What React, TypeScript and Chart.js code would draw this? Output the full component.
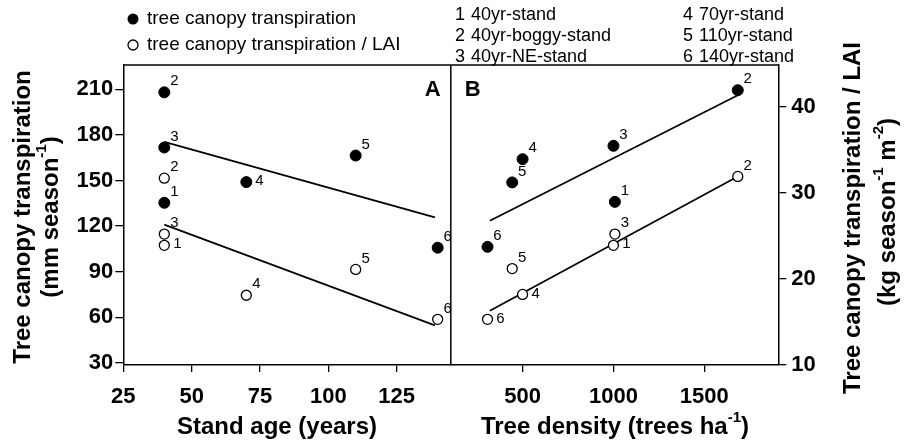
import React, { useEffect, useRef } from 'react';
import { Chart, registerables } from 'chart.js';

Chart.register(...registerables);

const FAMILY = "'Liberation Sans', Arial, Helvetica, sans-serif";

// Stands
const standIds = ['1', '2', '3', '4', '5', '6'];
const standNames = ['40yr-stand', '40yr-boggy-stand', '40yr-NE-stand', '70yr-stand', '110yr-stand', '140yr-stand'];

// Panel A: stand age (years)
const standAgeA = [40, 40, 40, 70, 110, 140];
const transpA = [135.3, 208, 171.7, 148.9, 166.4, 105.7]; // mm season-1
const transpLaiA = [23.9, 31.7, 25.2, 18.1, 21.1, 15.3]; // kg season-1 m-2

// Panel B: tree density (trees ha-1)
const densityFilledB = [1008, 1684, 1000, 500, 443, 307];
const transpB = [135.9, 209.4, 172.8, 164, 148.7, 106.3];
const densityOpenB = [1000, 1684, 1008, 500, 443, 307];
const transpLaiB = [23.9, 31.9, 25.2, 18.2, 21.2, 15.3];

// Regression line end points
const fitAgeX = [40, 139];
const fitTranspA = [175.4, 125.7];
const fitLaiA = [26.3, 14.6];
const fitDensityX = [320, 1684];
const fitTranspB = [123.4, 206.1];
const fitLaiB = [16.3, 31.9];

// Tick values
const leftTicks = [30, 60, 90, 120, 150, 180, 210];
const rightTicks = [10, 20, 30, 40];
const ageTicks = [25, 50, 75, 100, 125];
const densityTicks = [500, 1000, 1500];

// label placement of the stand numbers next to points (ne = upper right, e = right)
const lblFilledA = ['ne', 'ne', 'ne', 'e', 'ne', 'ne'];
const lblOpenA = ['e', 'ne', 'ne', 'ne', 'ne', 'ne'];
const lblFilledB = ['ne', 'ne', 'ne', 'ne', 'ne', 'ne'];
const lblOpenB = ['e', 'ne', 'ne', 'e', 'ne', 'e'];

const pts = (xs: number[], ys: number[]) => xs.map((x, i) => ({ x, y: ys[i] }));

function drawRich(ctx: CanvasRenderingContext2D, parts: [string, boolean][], x: number, y: number, size: number, weight: string) {
  const main = `${weight} ${size}px ${FAMILY}`;
  const sup = `${weight} ${Math.round(size * 0.62)}px ${FAMILY}`;
  let total = 0;
  const widths = parts.map(([t, s]) => {
    ctx.font = s ? sup : main;
    const w = ctx.measureText(t).width;
    total += w;
    return w;
  });
  let cx = x - total / 2;
  ctx.textAlign = 'left';
  ctx.textBaseline = 'middle';
  parts.forEach(([t, s], i) => {
    ctx.font = s ? sup : main;
    ctx.fillText(t, cx, s ? y - size * 0.38 : y);
    cx += widths[i];
  });
}

const decor = {
  id: 'decor',
  beforeDraw(chart: any) {
    const ctx = chart.ctx;
    ctx.save();
    ctx.fillStyle = '#fff';
    ctx.fillRect(0, 0, chart.width, chart.height);
    ctx.restore();
  },
  afterDraw(chart: any) {
    const ctx: CanvasRenderingContext2D = chart.ctx;
    const { left, right, top, bottom } = chart.chartArea;
    const xA = chart.scales.xA;
    ctx.save();
    ctx.strokeStyle = '#000';
    ctx.fillStyle = '#000';
    ctx.lineWidth = 1.5;
    ctx.beginPath();
    ctx.moveTo(left, top);
    ctx.lineTo(right, top);
    ctx.moveTo(xA.right, top);
    ctx.lineTo(xA.right, bottom);
    ctx.stroke();

    // panel letters
    ctx.font = `bold 22px ${FAMILY}`;
    ctx.textAlign = 'center';
    ctx.textBaseline = 'middle';
    ctx.fillText('A', xA.right - 18, top + 25);
    ctx.fillText('B', xA.right + 22, top + 25);

    // stand labels next to points
    ctx.font = `15px ${FAMILY}`;
    chart.data.datasets.forEach((ds: any, di: number) => {
      if (!ds.standLabels) return;
      const meta = chart.getDatasetMeta(di);
      meta.data.forEach((el: any, i: number) => {
        const pos = ds.labelPos[i];
        const dx = pos === 'e' ? 13 : 10;
        const dy = pos === 'e' ? -1 : -11;
        ctx.fillText(ds.standLabels[i], el.x + dx, el.y + dy);
      });
    });

    // legend
    ctx.beginPath();
    ctx.arc(133, 19, 5.5, 0, Math.PI * 2);
    ctx.fill();
    ctx.beginPath();
    ctx.lineWidth = 1.3;
    ctx.arc(133, 45, 5, 0, Math.PI * 2);
    ctx.stroke();
    ctx.textAlign = 'left';
    ctx.font = `19px ${FAMILY}`;
    ctx.fillText('tree canopy transpiration', 147, 19);
    ctx.fillText('tree canopy transpiration / LAI', 147, 45);
    ctx.font = `18px ${FAMILY}`;
    const rows = [15, 36, 57];
    standIds.forEach((id, i) => {
      const col = i < 3 ? 455 : 683;
      const y = rows[i % 3];
      ctx.fillText(id, col, y);
      ctx.fillText(standNames[i], col + 16, y);
    });

    // axis titles
    ctx.save();
    ctx.translate(23, 217);
    ctx.rotate(-Math.PI / 2);
    drawRich(ctx, [['Tree canopy transpiration', false]], 0, 0, 24, 'bold');
    ctx.restore();
    ctx.save();
    ctx.translate(51, 217);
    ctx.rotate(-Math.PI / 2);
    drawRich(ctx, [['(mm season', false], ['-1', true], [')', false]], 0, 0, 24, 'bold');
    ctx.restore();
    ctx.save();
    ctx.translate(853, 218);
    ctx.rotate(-Math.PI / 2);
    drawRich(ctx, [['Tree canopy transpiration / LAI', false]], 0, 0, 24, 'bold');
    ctx.restore();
    ctx.save();
    ctx.translate(888, 212);
    ctx.rotate(-Math.PI / 2);
    drawRich(ctx, [['(kg season', false], ['-1', true], [' m', false], ['-2', true], [')', false]], 0, 0, 24, 'bold');
    ctx.restore();
    drawRich(ctx, [['Stand age (years)', false]], 277, 427, 24, 'bold');
    drawRich(ctx, [['Tree density (trees ha', false], ['-1', true], [')', false]], 615, 427, 24, 'bold');
    ctx.restore();
  },
};

const tickFont = { family: FAMILY, size: 22, weight: 'bold' as const };

function axisCommon(tickLength: number, padding: number) {
  return {
    grid: { drawOnChartArea: false, drawTicks: true, tickLength, color: '#000', lineWidth: 1.3 },
    border: { display: true, color: '#000', width: 1.5 },
    ticks: {
      font: tickFont, color: '#000', padding, autoSkip: false, maxRotation: 0,
      callback: (v: any) => String(v),
    },
  };
}

export default function App() {
  const ref = useRef<HTMLCanvasElement | null>(null);

  useEffect(() => {
    if (!ref.current) return;
    const filled = { pointRadius: 5.5, pointBackgroundColor: '#000', pointBorderColor: '#000', pointBorderWidth: 1, showLine: false };
    const open = { pointRadius: 5, pointBackgroundColor: '#fff', pointBorderColor: '#000', pointBorderWidth: 1.3, showLine: false };
    const line = { pointRadius: 0, borderColor: '#000', borderWidth: 1.7, showLine: true, backgroundColor: '#000' };
    const chart = new Chart(ref.current, {
      type: 'scatter',
      data: {
        datasets: [
          { label: 'A transpiration', data: pts(standAgeA, transpA), xAxisID: 'xA', yAxisID: 'y', ...filled, standLabels: standIds, labelPos: lblFilledA } as any,
          { label: 'A transpiration / LAI', data: pts(standAgeA, transpLaiA), xAxisID: 'xA', yAxisID: 'y2', ...open, standLabels: standIds, labelPos: lblOpenA } as any,
          { label: 'B transpiration', data: pts(densityFilledB, transpB), xAxisID: 'xB', yAxisID: 'y', ...filled, standLabels: standIds, labelPos: lblFilledB } as any,
          { label: 'B transpiration / LAI', data: pts(densityOpenB, transpLaiB), xAxisID: 'xB', yAxisID: 'y2', ...open, standLabels: standIds, labelPos: lblOpenB } as any,
          { label: 'fit A', data: pts(fitAgeX, fitTranspA), xAxisID: 'xA', yAxisID: 'y', ...line } as any,
          { label: 'fit A LAI', data: pts(fitAgeX, fitLaiA), xAxisID: 'xA', yAxisID: 'y2', ...line } as any,
          { label: 'fit B', data: pts(fitDensityX, fitTranspB), xAxisID: 'xB', yAxisID: 'y', ...line } as any,
          { label: 'fit B LAI', data: pts(fitDensityX, fitLaiB), xAxisID: 'xB', yAxisID: 'y2', ...line } as any,
        ],
      },
      options: {
        responsive: false,
        animation: false,
        layout: { padding: { top: 65, left: 0, right: 0, bottom: 0 } },
        plugins: { legend: { display: false }, tooltip: { enabled: false } },
        scales: {
          xA: {
            type: 'linear', position: 'bottom', stack: 'x', stackWeight: 1, min: 25, max: 144.8,
            ...axisCommon(7, 12),
            afterBuildTicks: (s: any) => { s.ticks = ageTicks.map((v) => ({ value: v })); },
            afterFit: (s: any) => { s.height = 78; },
          },
          xB: {
            type: 'linear', position: 'bottom', stack: 'x', stackWeight: 1, min: 105, max: 1907,
            ...axisCommon(7, 12),
            afterBuildTicks: (s: any) => { s.ticks = densityTicks.map((v) => ({ value: v })); },
            afterFit: (s: any) => { s.height = 78; },
          },
          y: {
            type: 'linear', position: 'left', min: 28.5, max: 226,
            ...axisCommon(8, 2),
            afterBuildTicks: (s: any) => { s.ticks = leftTicks.map((v) => ({ value: v })); },
            afterFit: (s: any) => { s.width = 123.3; },
          },
          y2: {
            type: 'linear', position: 'right', min: 10, max: 44.84,
            ...axisCommon(8, 5),
            afterBuildTicks: (s: any) => { s.ticks = rightTicks.map((v) => ({ value: v })); },
            afterFit: (s: any) => { s.width = 129.7; },
          },
        } as any,
      },
      plugins: [decor],
    });
    return () => chart.destroy();
  }, []);

  return (
    <div style={{ position: 'absolute', left: 0, top: 0, width: 908, height: 443, background: '#fff' }}>
      <canvas ref={ref} width={908} height={443} style={{ width: 908, height: 443, display: 'block' }} />
    </div>
  );
}
